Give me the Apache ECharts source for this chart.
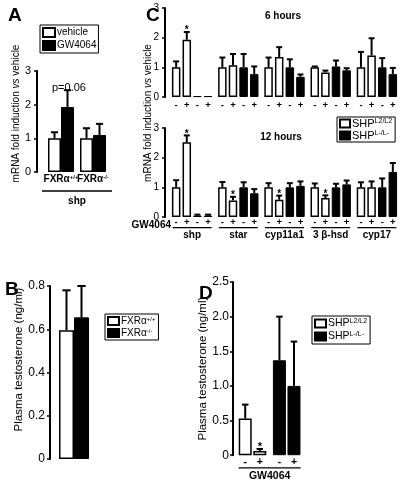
<!DOCTYPE html>
<html><head><meta charset="utf-8">
<script src="https://cdn.jsdelivr.net/npm/echarts@6/dist/echarts.min.js"></script>
<style>html,body{margin:0;padding:0;background:#fff}#c{width:400px;height:483px}</style>
</head><body><div id="c"></div>
<script>
// ---------- Panel A : shp mRNA, FXRa mice ----------
const aGroups = ['FXRα+/+', 'FXRα-/-'];
const aVehicle = [1.0, 1.0];
const aVehicleErr = [1.18, 1.30];
const aGW = [1.93, 1.10];
const aGWErr = [2.43, 1.43];
const aTicks = [0, 1, 2, 3];

// ---------- Panel C : genes, 6 h and 12 h ----------
const cGenes = ['shp', 'star', 'cyp11a1', '3 β-hsd', 'cyp17'];
const c6L2Veh = [1.0, 1.0, 1.0, 1.0, 1.0];
const c6L2VehErr = [1.20, 1.33, 1.33, 1.03, 1.52];
const c6L2GW = [1.93, 1.07, 1.35, 0.83, 1.40];
const c6L2GWErr = [2.19, 1.45, 1.68, 0.89, 1.98];
const c6KOVeh = [0.03, 1.0, 1.0, 1.03, 1.0];
const c6KOVehErr = [0.03, 1.45, 1.27, 1.23, 1.31];
const c6KOGW = [0.03, 0.77, 0.68, 0.90, 0.77];
const c6KOGWErr = [0.03, 1.03, 0.76, 0.97, 0.98];
const c6Sig = [1, 0, 0, 0, 0];

const c12L2Veh = [1.0, 1.0, 1.0, 1.0, 1.0];
const c12L2VehErr = [1.24, 1.18, 1.14, 1.13, 1.17];
const c12L2GW = [2.52, 0.56, 0.58, 0.64, 1.0];
const c12L2GWErr = [2.75, 0.68, 0.72, 0.73, 1.20];
const c12KOVeh = [0.05, 1.0, 1.0, 1.0, 1.0];
const c12KOVehErr = [0.08, 1.17, 1.14, 1.12, 1.30];
const c12KOGW = [0.05, 0.80, 1.05, 1.10, 1.52];
const c12KOGWErr = [0.08, 0.94, 1.20, 1.23, 1.82];
const c12Sig = [1, 1, 1, 1, 0];

// ---------- Panel B : plasma testosterone, FXRa ----------
const bGenotypes = ['FXRα+/+', 'FXRα-/-'];
const bValues = [0.595, 0.655];
const bErr = [0.78, 0.80];

// ---------- Panel D : plasma testosterone, SHP ----------
const dGenotypes = ['SHP L2/L2', 'SHP L-/L-'];
const dVehicle = [0.53, 1.37];
const dVehicleErr = [0.73, 2.00];
const dGW = [0.06, 1.00];
const dGWErr = [0.09, 1.64];
const dSig = [1, 0];

const F = "'Liberation Sans', Arial, Helvetica, sans-serif";
const WHITE = {color: '#fff', borderColor: '#000', borderWidth: 1.5};
const BLACK = {color: '#000', borderColor: '#000', borderWidth: 1};

function supRich(size) {
  return {
    n: {fontSize: size, fontFamily: F, color: '#000'},
    b: {fontSize: size, fontFamily: F, color: '#000', fontWeight: 'bold'},
    s: {fontSize: Math.round(size * 0.62), fontFamily: F, color: '#000', verticalAlign: 'top'},
    sb: {fontSize: Math.round(size * 0.62), fontFamily: F, color: '#000', verticalAlign: 'top', fontWeight: 'bold'}
  };
}
function supText(name, bold) {
  const base = name.startsWith('FXR') ? 'FXRα' : 'SHP';
  const sup = name.slice(base.length).trim();
  return bold ? '{b|' + base + '}{sb|' + sup + '}' : '{n|' + base + '}{s|' + sup + '}';
}

function errRender(bw, gapRatio, n, lw, capRatio, starSize) {
  return function (params, api) {
    const cat = api.value(0), idx = api.value(1), v = api.value(2), e = api.value(3), sig = api.value(4);
    const base = api.coord([cat, v]);
    const top = api.coord([cat, e]);
    const total = n * bw + (n - 1) * gapRatio * bw;
    const x = base[0] - total / 2 + idx * bw * (1 + gapRatio) + bw / 2;
    const cap = bw * capRatio;
    const ch = [];
    if (e > v) {
      ch.push({type: 'line', shape: {x1: x, y1: base[1], x2: x, y2: top[1]}, style: {stroke: '#000', lineWidth: lw}});
      ch.push({type: 'line', shape: {x1: x - cap / 2, y1: top[1], x2: x + cap / 2, y2: top[1]}, style: {stroke: '#000', lineWidth: lw}});
    }
    if (sig) {
      ch.push({type: 'text', style: {text: '*', x: x, y: top[1] + starSize * 0.35, align: 'center', verticalAlign: 'bottom',
        font: 'bold ' + starSize + 'px ' + F, fill: '#000'}});
    }
    return {type: 'group', children: ch};
  };
}
function errData(list) {
  const out = [];
  list.forEach((s, j) => s[0].forEach((v, i) => out.push([i, j, v, s[1][i], s[2] ? s[2][i] : 0])));
  return out;
}

function yAxisBase(grid, min, max, interval, fs, margin, offset, fmt) {
  return {
    gridIndex: grid, type: 'value', min: min, max: max, interval: interval, offset: offset,
    axisLine: {show: true, lineStyle: {color: '#000', width: 2}},
    axisTick: {show: true, length: 3, lineStyle: {color: '#000', width: 1.5}},
    splitLine: {show: false},
    axisLabel: {fontSize: fs, fontFamily: F, color: '#000', margin: margin, formatter: fmt}
  };
}
const decFmt = v => (v === 0 ? '0' : v.toFixed(1));

const chart = echarts.init(document.getElementById('c'), null, {renderer: 'canvas'});

function cBars(xi, vals, fs, dist) {
  const names = ['SHP L2/L2', 'SHP L2/L2', 'SHP L-/L-', 'SHP L-/L-'];
  const signs = ['-', '+', '-', '+'];
  return vals.map((d, k) => ({
    type: 'bar', name: names[k], xAxisIndex: xi, yAxisIndex: xi, data: d,
    barWidth: 8.5, barGap: '25%', itemStyle: k < 2 ? WHITE : BLACK,
    label: {show: true, position: 'bottom', distance: dist, formatter: signs[k], fontSize: fs, fontWeight: 'bold', fontFamily: F, color: '#000'},
    silent: true
  }));
}

const yTitleRich = {n: {fontSize: 10, fontFamily: F, color: '#000'}, i: {fontSize: 10, fontFamily: F, color: '#000', fontStyle: 'italic'}};

const option = {
  backgroundColor: '#fff',
  animation: false,
  textStyle: {fontFamily: F, color: '#000'},
  title: [
    {text: 'A', left: 3, top: 1, textStyle: {fontSize: 19, fontWeight: 'bold', fontFamily: F, color: '#000'}},
    {text: 'C', left: 141, top: 1, textStyle: {fontSize: 19, fontWeight: 'bold', fontFamily: F, color: '#000'}},
    {text: 'B', left: 0, top: 275, textStyle: {fontSize: 19, fontWeight: 'bold', fontFamily: F, color: '#000'}},
    {text: 'D', left: 194, top: 279, textStyle: {fontSize: 19, fontWeight: 'bold', fontFamily: F, color: '#000'}},
    {text: '6 hours', left: 278, top: 6, textAlign: 'center', textStyle: {fontSize: 10, fontWeight: 'bold', fontFamily: F, color: '#000'}},
    {text: '12 hours', left: 276, top: 127, textAlign: 'center', textStyle: {fontSize: 10, fontWeight: 'bold', fontFamily: F, color: '#000'}},
    {text: 'p=0.06', left: 47, top: 77, textStyle: {fontSize: 11, fontWeight: 'normal', fontFamily: F, color: '#000'}},
    {text: 'GW4064', left: 166, top: 215, textAlign: 'right', textStyle: {fontSize: 10, fontWeight: 'bold', fontFamily: F, color: '#000'}}
  ],
  legend: [
    {data: ['vehicle', 'GW4064'], left: 40, top: 25, orient: 'vertical', icon: 'rect', itemWidth: 12, itemHeight: 9, itemGap: 2,
      padding: [2, 2, 2, 2], borderColor: '#000', borderWidth: 1, selectedMode: false,
      textStyle: {fontSize: 10, fontFamily: F, color: '#000', padding: [0, 0, 0, -3]}},
    {data: ['SHP L2/L2', 'SHP L-/L-'], left: 337, top: 117, orient: 'vertical', icon: 'rect', itemWidth: 10, itemHeight: 8, itemGap: 1,
      padding: [1, 3, 1, 2], borderColor: '#000', borderWidth: 1, selectedMode: false,
      formatter: n => supText(n, false), textStyle: {padding: [0, 0, 0, -3], rich: supRich(11)}},
    {data: ['FXRα+/+', 'FXRα-/-'], left: 105, top: 314, orient: 'vertical', icon: 'rect', itemWidth: 11, itemHeight: 8, itemGap: 2,
      padding: [2, 3, 2, 2], borderColor: '#000', borderWidth: 1, selectedMode: false,
      formatter: n => supText(n, false), textStyle: {padding: [0, 0, 0, -3], rich: supRich(10)}},
    {data: ['SHP L2/L2', 'SHP L-/L-'], left: 312, top: 316, orient: 'vertical', icon: 'rect', itemWidth: 11, itemHeight: 8, itemGap: 2,
      padding: [2, 3, 2, 2], borderColor: '#000', borderWidth: 1, selectedMode: false,
      formatter: n => supText(n, false), textStyle: {padding: [0, 0, 0, -3], rich: supRich(10.5)}}
  ],
  grid: [
    {left: 45, top: 71, width: 64, height: 101},
    {left: 169, top: 8, width: 232, height: 89},
    {left: 169, top: 128, width: 232, height: 89},
    {left: 50, top: 286, width: 48, height: 173},
    {left: 235.4, top: 282, width: 68.4, height: 176.5}
  ],
  xAxis: [
    {gridIndex: 0, type: 'category', data: aGroups, axisLine: {show: false}, axisTick: {show: false},
      axisLabel: {interval: 0, margin: 2, formatter: v => supText(v, true), rich: supRich(10)},
      name: '{ln|}\n{t|shp}', nameLocation: 'middle', nameGap: 17,
      nameTextStyle: {rich: {ln: {width: 70, height: 1.5, backgroundColor: '#000'}, t: {fontSize: 10, fontWeight: 'bold', fontFamily: F, color: '#000', lineHeight: 20}}}},
    {gridIndex: 1, type: 'category', data: cGenes, axisLine: {show: false}, axisTick: {show: false}, axisLabel: {show: false}},
    {gridIndex: 2, type: 'category', data: cGenes, axisLine: {show: false}, axisTick: {show: false},
      axisLabel: {interval: 0, margin: 10, formatter: v => '{ln|}\n{t|' + v + '}',
        rich: {ln: {width: 39, height: 1.3, backgroundColor: '#000'}, t: {fontSize: 10, fontWeight: 'bold', fontFamily: F, color: '#000', lineHeight: 13}}}},
    {gridIndex: 3, type: 'category', data: ['FXRα'], axisLine: {show: false}, axisTick: {show: false}, axisLabel: {show: false}},
    {gridIndex: 4, type: 'category', data: dGenotypes, axisLine: {show: false}, axisTick: {show: false}, axisLabel: {show: false},
      name: '{ln|}\n{t|GW4064}', nameLocation: 'middle', nameGap: 12,
      nameTextStyle: {rich: {ln: {width: 62, height: 1.3, backgroundColor: '#000'}, t: {fontSize: 10.5, fontWeight: 'bold', fontFamily: F, color: '#000', lineHeight: 16}}}}
  ],
  yAxis: [
    Object.assign(yAxisBase(0, 0, 3, 1, 11, 6, 8), {
      name: '{n|mRNA fold induction }{i|vs}{n| vehicle}', nameLocation: 'middle', nameGap: 15,
      nameTextStyle: {padding: [0, 0, 0, 16], rich: yTitleRich}}),
    yAxisBase(1, 0, 3, 1, 10, 6, 4),
    yAxisBase(2, 0, 3, 1, 10, 6, 4),
    Object.assign(yAxisBase(3, 0, 0.8, 0.2, 12, 5, 0, decFmt), {
      name: 'Plasma testosterone (ng/ml)', nameLocation: 'middle', nameGap: 16,
      nameTextStyle: {fontSize: 11.5, fontFamily: F, color: '#000', padding: [0, 0, 0, 26]}}),
    Object.assign(yAxisBase(4, 0, 2.5, 0.5, 12, 4, 2.4, decFmt), {
      name: 'Plasma testosterone (ng/ml)', nameLocation: 'middle', nameGap: 14,
      nameTextStyle: {fontSize: 11.5, fontFamily: F, color: '#000'}})
  ],
  graphic: [
    {type: 'text', x: 148, y: 113, rotation: Math.PI / 2,
      style: {text: '{n|mRNA fold induction }{i|vs}{n| vehicle}', align: 'center', verticalAlign: 'middle', rich: yTitleRich}}
  ],
  series: [
    // A
    {type: 'bar', name: 'vehicle', xAxisIndex: 0, yAxisIndex: 0, data: aVehicle, barWidth: 13, barGap: 0, itemStyle: WHITE},
    {type: 'bar', name: 'GW4064', xAxisIndex: 0, yAxisIndex: 0, data: aGW, barWidth: 13, barGap: 0, itemStyle: BLACK},
    {type: 'custom', xAxisIndex: 0, yAxisIndex: 0, z: 5, renderItem: errRender(13, 0, 2, 2, 0.55, 11),
      encode: {x: 0, y: [2, 3]}, data: errData([[aVehicle, aVehicleErr], [aGW, aGWErr]])},
    // C 6h
    ...cBars(1, [c6L2Veh, c6L2GW, c6KOVeh, c6KOGW], 9.5, 3),
    {type: 'custom', xAxisIndex: 1, yAxisIndex: 1, z: 5, renderItem: errRender(8.5, 0.25, 4, 2, 0.7, 10),
      encode: {x: 0, y: [2, 3]}, data: errData([[c6L2Veh, c6L2VehErr], [c6L2GW, c6L2GWErr, c6Sig], [c6KOVeh, c6KOVehErr], [c6KOGW, c6KOGWErr]])},
    // C 12h
    ...cBars(2, [c12L2Veh, c12L2GW, c12KOVeh, c12KOGW], 9.5, 0),
    {type: 'custom', xAxisIndex: 2, yAxisIndex: 2, z: 5, renderItem: errRender(8.5, 0.25, 4, 2, 0.7, 10),
      encode: {x: 0, y: [2, 3]}, data: errData([[c12L2Veh, c12L2VehErr], [c12L2GW, c12L2GWErr, c12Sig], [c12KOVeh, c12KOVehErr], [c12KOGW, c12KOGWErr]])},
    // B
    {type: 'bar', name: bGenotypes[0], xAxisIndex: 3, yAxisIndex: 3, data: [bValues[0]], barWidth: 15, barGap: 0, itemStyle: WHITE},
    {type: 'bar', name: bGenotypes[1], xAxisIndex: 3, yAxisIndex: 3, data: [bValues[1]], barWidth: 15, barGap: 0, itemStyle: BLACK},
    {type: 'custom', xAxisIndex: 3, yAxisIndex: 3, z: 5, renderItem: errRender(15, 0, 2, 2, 0.55, 11),
      encode: {x: 0, y: [2, 3]}, data: errData([[[bValues[0]], [bErr[0]]], [[bValues[1]], [bErr[1]]]])},
    // D
    {type: 'bar', name: 'D vehicle', xAxisIndex: 4, yAxisIndex: 4, barWidth: 13, barGap: '12%',
      data: dVehicle.map((v, i) => ({value: v, itemStyle: i === 0 ? WHITE : BLACK})),
      label: {show: true, position: 'bottom', distance: 1, formatter: '-', fontSize: 10.5, fontWeight: 'bold', fontFamily: F, color: '#000'}},
    {type: 'bar', name: 'D GW4064', xAxisIndex: 4, yAxisIndex: 4, barWidth: 13, barGap: '12%',
      data: dGW.map((v, i) => ({value: v, itemStyle: i === 0 ? WHITE : BLACK})),
      label: {show: true, position: 'bottom', distance: 1, formatter: '+', fontSize: 10.5, fontWeight: 'bold', fontFamily: F, color: '#000'}},
    {type: 'custom', xAxisIndex: 4, yAxisIndex: 4, z: 5, renderItem: errRender(13, 0.12, 2, 2, 0.5, 11),
      encode: {x: 0, y: [2, 3]}, data: errData([[dVehicle, dVehicleErr], [dGW, dGWErr, dSig]])}
  ]
};
chart.setOption(option);
</script>
</body></html>
